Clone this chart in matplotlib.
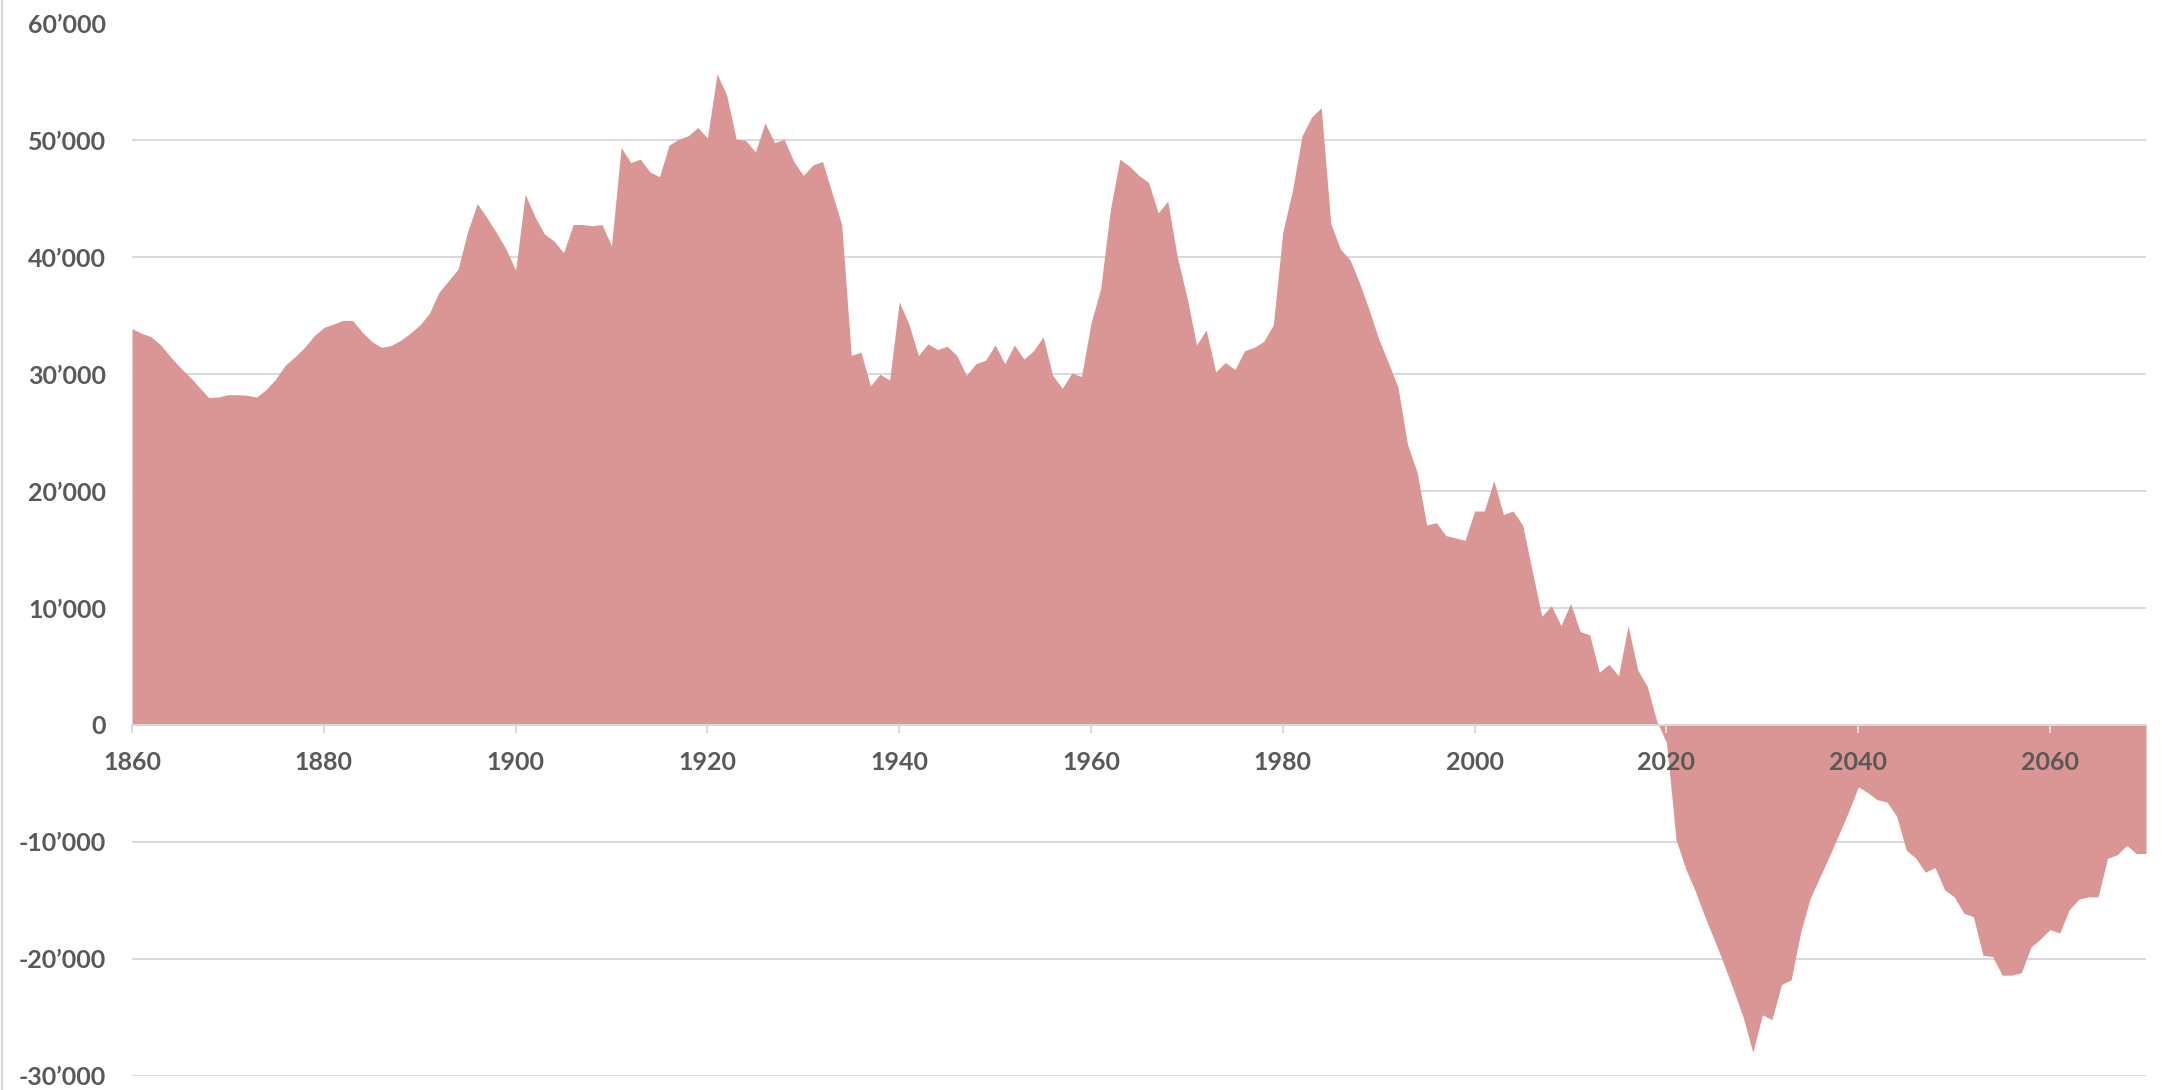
import numpy as np
import matplotlib
matplotlib.use("Agg")
import matplotlib.pyplot as plt
from matplotlib.lines import Line2D
from matplotlib.ticker import FuncFormatter

# yearly values
years = np.arange(1860, 2071)

values_1860_1899 = [
    33900, 33500, 33200, 32500, 31500, 30600, 29800, 28900, 28000, 28050,
    28250, 28250, 28200, 28050, 28700, 29600, 30800, 31500, 32300, 33300,
    34000, 34300, 34600, 34600, 33600, 32800, 32300, 32450, 32900, 33500,
    34200, 35200, 37000, 38000, 39000, 42200, 44600, 43400, 42100, 40700,
]
values_1900_1939 = [
    38900, 45400, 43500, 42000, 41400, 40400, 42800, 42800, 42700, 42800,
    41000, 49400, 48100, 48400, 47300, 46900, 49600, 50100, 50400, 51100,
    50200, 55700, 53900, 50100, 50000, 49000, 51500, 49800, 50100, 48200,
    47000, 47900, 48200, 45500, 42800, 31600, 31900, 29000, 30000, 29500,
]
values_1940_1979 = [
    36200, 34300, 31600, 32600, 32100, 32400, 31600, 29900, 30900, 31200,
    32500, 30900, 32500, 31300, 32000, 33200, 29900, 28800, 30100, 29800,
    34400, 37300, 44000, 48400, 47800, 47000, 46400, 43800, 44800, 40000,
    36600, 32500, 33800, 30200, 31000, 30400, 32000, 32300, 32800, 34200,
]
values_1980_2019 = [
    42200, 45700, 50400, 52000, 52800, 42900, 40700, 39800, 37800, 35500,
    33000, 31000, 28900, 24000, 21600, 17100, 17300, 16200, 16000, 15800,
    18300, 18300, 20900, 18000, 18300, 17100, 13200, 9300, 10200, 8500,
    10400, 8000, 7700, 4500, 5200, 4200, 8500, 4700, 3300, 300,
]
values_2020_2070 = [
    -1500, -9800, -12300, -14200, -16400, -18400, -20500, -22700, -25000, -28000,
    -24800, -25200, -22200, -21800, -17700, -14800, -13000, -11200, -9300, -7400,
    -5300, -5800, -6400, -6600, -7800, -10700, -11400, -12600, -12200, -14100,
    -14700, -16100, -16400, -19700, -19800, -21400, -21400, -21200, -19000, -18300,
    -17500, -17800, -15800, -14900, -14700, -14700, -11400, -11100, -10300, -11000,
    -11000,
]
values = np.array(values_1860_1899 + values_1900_1939 + values_1940_1979
                  + values_1980_2019 + values_2020_2070)

x_ticks = list(range(1860, 2061, 20))
y_ticks = list(range(-30000, 60001, 10000))

W, H = 2162, 1090
fig = plt.figure(figsize=(W / 100, H / 100), dpi=100)
ax = fig.add_axes([132 / W, 1 - 1075.7 / H, (2146 - 132) / W, (1075.7 - 23.5) / H])

grid_col = '#d9d9d9'
text_col = '#595959'

ax.fill_between(years, values, 0, color='#D99694', linewidth=0, zorder=1)

ax.set_xlim(1860, 2070)
ax.set_ylim(-30000, 60000)
ax.set_xticks(x_ticks)
ax.set_yticks(y_ticks)
ax.yaxis.set_major_formatter(FuncFormatter(lambda v, p: f"{v:,.0f}".replace(",", "\u2019")))

# gridlines under the area, x axis (line, ticks, labels) on top of it
ax.grid(True, axis='y', color=grid_col, linewidth=1.4)
ax.set_axisbelow(True)
ax.xaxis.set_zorder(3)

for s in ['top', 'right', 'left']:
    ax.spines[s].set_visible(False)
ax.spines['bottom'].set_position(('data', 0))
ax.spines['bottom'].set_color(grid_col)
ax.spines['bottom'].set_linewidth(1.4)
ax.spines['bottom'].set_zorder(3)

ax.tick_params(axis='x', direction='out', length=6, width=1.4, color=grid_col,
               labelcolor=text_col, pad=12.5)
ax.tick_params(axis='y', length=0, labelcolor=text_col, pad=18.5)
for lbl in ax.get_xticklabels() + ax.get_yticklabels():
    lbl.set_fontfamily('Lato')
    lbl.set_fontweight('bold')
    lbl.set_fontsize(18)

# light frame line at the left edge
fig.add_artist(Line2D([1.5 / W, 1.5 / W], [0, 1], transform=fig.transFigure,
                      color=grid_col, linewidth=1.5))

fig.savefig('out.png', dpi=100, facecolor='white')
